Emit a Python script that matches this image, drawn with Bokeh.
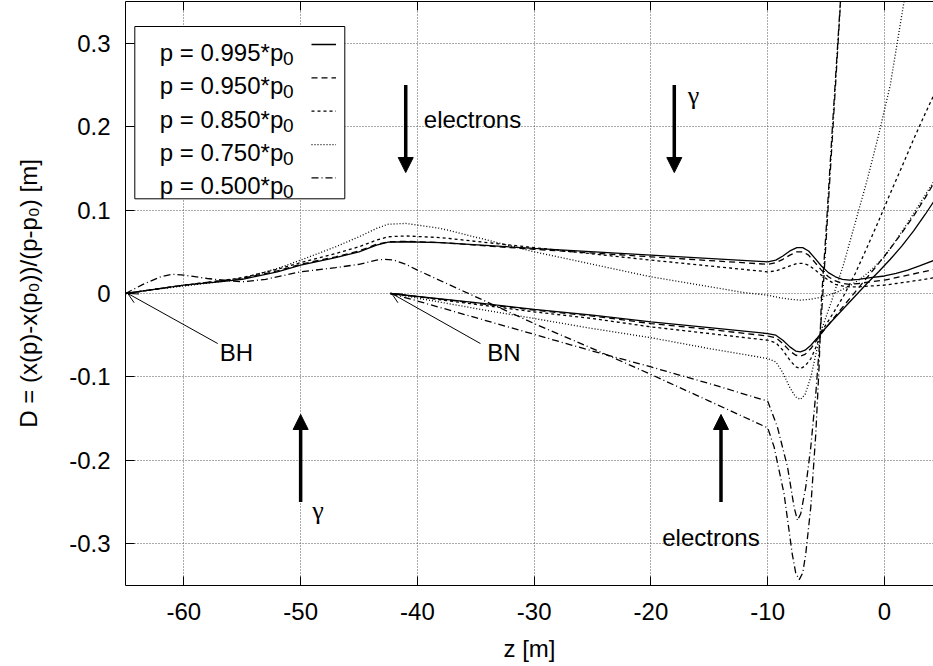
from bokeh.plotting import figure
from bokeh.models import Range1d, FixedTicker, LinearAxis, Arrow, NormalHead, OpenHead
from bokeh.core.properties import value
from bokeh.embed import file_html
from bokeh.resources import INLINE

# ---------------- data ----------------
x_ticks = [-60, -50, -40, -30, -20, -10, 0]
x_tick_labels = ["-60", "-50", "-40", "-30", "-20", "-10", "0"]
y_ticks = [-0.3, -0.2, -0.1, 0.0, 0.1, 0.2, 0.3]
y_tick_labels = ["-0.3", "-0.2", "-0.1", "0", "0.1", "0.2", "0.3"]

# BH group (start at z = -65)
bh_z = [-65, -63, -60, -57, -55, -52, -50, -47, -45, -43.5, -42.5, -41, -38, -30, -20, -10,
        -9.3, -8.7, -8.1, -7.5, -7.0, -6.5, -6.0, -5.4, -4.8, -4.2, -3.6, -3.0, -2.2, -1.2,
        0, 1, 2, 3, 4.3]
bh_995 = [0, 0.004, 0.010, 0.014, 0.017, 0.026, 0.034, 0.043, 0.050, 0.058, 0.0615, 0.062,
          0.061, 0.054, 0.046, 0.038, 0.040, 0.045, 0.051, 0.055, 0.055, 0.051, 0.043, 0.033,
          0.025, 0.020, 0.017, 0.016, 0.017, 0.019, 0.021, 0.024, 0.028, 0.033, 0.040]
bh_950 = [0, 0.004, 0.010, 0.015, 0.018, 0.027, 0.035, 0.044, 0.051, 0.059, 0.062, 0.0625,
          0.061, 0.053, 0.044, 0.035, 0.037, 0.041, 0.046, 0.050, 0.050, 0.046, 0.038, 0.028,
          0.020, 0.015, 0.012, 0.011, 0.012, 0.014, 0.016, 0.019, 0.022, 0.025, 0.029]
bh_850 = [0, 0.004, 0.010, 0.015, 0.019, 0.029, 0.037, 0.048, 0.056, 0.064, 0.068, 0.069,
          0.067, 0.055, 0.040, 0.026, 0.027, 0.030, 0.033, 0.036, 0.036, 0.034, 0.029, 0.022,
          0.016, 0.011, 0.009, 0.008, 0.008, 0.009, 0.010, 0.012, 0.014, 0.016, 0.019]
bh75_z = [-65, -63, -60, -57, -55, -52, -50, -47, -45, -43.5, -42.5, -41, -38, -30, -20, -12,
          -10, -9, -8, -7.2, -6.4, -5.6, -4.8, -4.0, -3.0, -2.0, -1.0, 0, 1, 2, 3, 4.3]
bh_750 = [0, 0.004, 0.009, 0.014, 0.018, 0.030, 0.040, 0.056, 0.068, 0.078, 0.083, 0.084,
          0.078, 0.050, 0.020, 0.001, -0.002, -0.005, -0.007, -0.008, -0.007, -0.005, -0.002,
          0.002, 0.009, 0.018, 0.030, 0.044, 0.064, 0.085, 0.107, 0.136]
bh50_z = [-65, -63.5, -62, -61, -60, -58, -56, -55, -53, -50, -47, -45, -43.5, -42.8, -42, -41,
          -40, -35, -30, -25, -20, -15, -10, -9.45, -8.6, -7.9, -7.6, -7.3, -7.0, -6.74, -6.31,
          -5.88, -5.6, -5.4, -5.0, -4.5, -4.0, -3.5]
bh_500 = [0, 0.011, 0.020, 0.023, 0.022, 0.018, 0.015, 0.014, 0.017, 0.026, 0.031, 0.035,
          0.040, 0.041, 0.040, 0.035, 0.028, -0.004, -0.036, -0.066, -0.097, -0.129, -0.161,
          -0.184, -0.240, -0.312, -0.335, -0.343, -0.335, -0.312, -0.256, -0.168, -0.088,
          -0.008, 0.075, 0.19, 0.30, 0.41]

# BN group (start at z = -42.3)
bn_z = [-42.3, -40, -35, -30, -25, -20, -15, -10, -9.3, -8.7, -8.1, -7.6, -7.2, -6.8, -6.3,
        -5.8, -5.4, -4.5, -3.5, -2.5, -1.5, -0.5, 0.5, 1.5, 2.5, 3.5, 4.3]
bn_995 = [0, -0.0035, -0.011, -0.019, -0.026, -0.034, -0.041, -0.048, -0.050, -0.056, -0.064,
          -0.069, -0.070, -0.068, -0.062, -0.054, -0.047, -0.033, -0.018, -0.003, 0.012, 0.026,
          0.041, 0.057, 0.075, 0.095, 0.112]
bn_950 = [0, -0.0037, -0.0115, -0.020, -0.027, -0.036, -0.043, -0.051, -0.053, -0.060, -0.069,
          -0.074, -0.075, -0.073, -0.066, -0.056, -0.048, -0.032, -0.015, 0.002, 0.019, 0.036,
          0.054, 0.073, 0.093, 0.115, 0.134]
bn_850 = [0, -0.004, -0.013, -0.022, -0.030, -0.040, -0.048, -0.056, -0.059, -0.068, -0.080,
          -0.088, -0.090, -0.087, -0.078, -0.062, -0.046, -0.026, -0.003, 0.024, 0.055, 0.087,
          0.120, 0.152, 0.185, 0.216, 0.240]
bn75_z = [-42.3, -40, -35, -30, -25, -20, -15, -10, -9.3, -8.7, -8.1, -7.6, -7.2, -6.8, -6.3,
          -5.8, -5.4, -4.6, -3.5, -2.5, -1.5, -0.5, 0.5, 1.7, 2.3]
bn_750 = [0, -0.0055, -0.018, -0.030, -0.042, -0.053, -0.066, -0.078, -0.082, -0.095, -0.113,
          -0.124, -0.127, -0.121, -0.100, -0.068, -0.044, -0.012, 0.035, 0.085, 0.135, 0.190,
          0.250, 0.352, 0.41]
bn50_z = [-42.3, -40, -35, -30, -25, -20, -15, -10, -9.17, -8.3, -7.74, -7.45, -7.17, -6.74,
          -6.31, -5.88, -5.6, -5.31, -5.0, -4.5, -4.0, -3.5]
bn_500 = [0, -0.009, -0.029, -0.049, -0.069, -0.088, -0.108, -0.129, -0.160, -0.208, -0.256,
          -0.272, -0.264, -0.232, -0.184, -0.120, -0.068, -0.008, 0.063, 0.178, 0.294, 0.41]

legend_labels = ["p = 0.995*p", "p = 0.950*p", "p = 0.850*p", "p = 0.750*p", "p = 0.500*p"]
legend_sub = ["0", "0", "0", "0", "0"]

# annotations (data coordinates)
big_arrow_z = [-41, -18, -50, -14]
big_arrow_from = [0.25, 0.25, -0.25, -0.25]
big_arrow_to = [0.145, 0.145, -0.145, -0.145]
thin_from_z = [-57.1, -34.6]
thin_from_d = [-0.060, -0.060]
thin_to_z = [-64.8, -42.2]
thin_to_d = [0.0, 0.0]
label_text = ["electrons", "electrons", "BH", "BN"]
label_z = [-39.45, -19.03, -56.92, -34.02]
label_d = [0.209, -0.292, -0.0703, -0.0703]
gamma_z = [-16.84, -49.0]
gamma_d = [0.237, -0.260]

# ---------------- layout ----------------
W, H = 933, 666
FL, FT, FW, FH = 125, 1, 808, 584
XR = (-65.0, 4.2)
YR = (-0.35, 0.35)
FONT = "Liberation Sans"
FS = "24px"


def zx(px):
    return XR[0] + (px - FL) * (XR[1] - XR[0]) / FW


def dy(py):
    return YR[1] - (py - FT) * (YR[1] - YR[0]) / FH


p = figure(width=W, height=H, x_range=Range1d(*XR), y_range=Range1d(*YR),
           output_backend="svg", toolbar_location=None,
           min_border_left=FL, min_border_right=0, min_border_top=FT,
           min_border_bottom=H - FT - FH)
p.outline_line_color = None
p.background_fill_color = "white"
p.border_fill_color = "white"

for ax in (p.xaxis[0], p.yaxis[0]):
    ax.major_label_text_font = FONT
    ax.major_label_text_font_size = FS
    ax.major_label_text_color = "black"
    ax.axis_label_text_font = FONT
    ax.axis_label_text_font_size = FS
    ax.axis_label_text_font_style = "normal"
    ax.axis_label_text_color = "black"
    ax.major_tick_in = 9
    ax.major_tick_out = 0
    ax.minor_tick_line_color = None
    ax.axis_line_color = "black"
    ax.major_tick_line_color = "black"

p.xaxis.ticker = FixedTicker(ticks=x_ticks)
p.xaxis.major_label_overrides = dict(zip(x_ticks, x_tick_labels))
p.xaxis.major_label_standoff = 17
p.xaxis.axis_label = "z [m]"
p.xaxis.axis_label_standoff = 12
p.yaxis.ticker = FixedTicker(ticks=y_ticks)
p.yaxis.major_label_overrides = dict(zip(y_ticks, y_tick_labels))
p.yaxis.axis_label = "D = (x(p)-x(p\u2080))/(p-p\u2080) [m]"
p.yaxis.axis_label_standoff = 24
p.yaxis.major_label_standoff = 15

# mirrored ticks on the top border (no labels drawn)
top = LinearAxis(ticker=FixedTicker(ticks=x_ticks), major_label_text_font_size="0px",
                 major_label_text_color=None, major_label_text_alpha=0,
                 major_tick_in=9, major_tick_out=0, minor_tick_line_color=None,
                 axis_line_color="black", major_tick_line_color="black",
                 major_label_standoff=0)
p.add_layout(top, "above")

p.xgrid.ticker = FixedTicker(ticks=x_ticks)
p.ygrid.ticker = FixedTicker(ticks=y_ticks)
p.grid.grid_line_color = "#555555"
p.grid.grid_line_dash = "1 2"
p.grid.grid_line_width = 1

LW = 1.3
DASH = ["solid", "6 4", "3 3", "1 2", "7 3 1 3"]

curves = [
    (bh_z, bh_995, 0), (bh_z, bh_950, 1), (bh_z, bh_850, 2), (bh75_z, bh_750, 3), (bh50_z, bh_500, 4),
    (bn_z, bn_995, 0), (bn_z, bn_950, 1), (bn_z, bn_850, 2), (bn75_z, bn_750, 3), (bn50_z, bn_500, 4),
]
for zs, ds, k in curves:
    p.line(zs, ds, line_color="black", line_width=LW, line_dash=DASH[k])

# big arrows
for z, a, b in zip(big_arrow_z, big_arrow_from, big_arrow_to):
    p.add_layout(Arrow(end=NormalHead(size=15, fill_color="black", line_color="black", line_width=1),
                       x_start=z, y_start=a, x_end=z, y_end=b,
                       line_color="black", line_width=3.5))
# thin pointer arrows
for z0, d0, z1, d1 in zip(thin_from_z, thin_from_d, thin_to_z, thin_to_d):
    p.add_layout(Arrow(end=OpenHead(size=10, line_color="black", line_width=1),
                       x_start=z0, y_start=d0, x_end=z1, y_end=d1,
                       line_color="black", line_width=1))

p.text(x=label_z, y=label_d, text=label_text, text_font=value(FONT), text_font_size=FS,
       text_baseline="alphabetic", text_align="left", text_color="black")
p.text(x=gamma_z, y=gamma_d, text=["\u03b3", "\u03b3"], text_font=value("Liberation Serif"),
       text_font_size="26px", text_baseline="alphabetic", text_align="left", text_color="black")

# legend box (gnuplot style: label then line sample)
p.quad(left=[zx(134.3)], right=[zx(344.3)], top=[dy(26)], bottom=[dy(198.3)],
       fill_color="white", line_color="black", line_width=1)
rows_base = [dy(52.0 + 33.35 * i) for i in range(5)]
rows_mid = [dy(44.0 + 33.35 * i) for i in range(5)]
p.text(x=[zx(159.3)] * 5, y=rows_base, text=legend_labels, text_font=value(FONT),
       text_font_size=FS, text_baseline="alphabetic", text_align="left", text_color="black")
p.text(x=[zx(282.5)] * 5, y=rows_base, text=legend_sub, text_font=value(FONT),
       text_font_size="19px", text_baseline="alphabetic", text_align="left", y_offset=6,
       text_color="black")
for i in range(5):
    p.line([zx(311), zx(335.5)], [rows_mid[i], rows_mid[i]], line_color="black",
           line_width=LW, line_dash=DASH[i])

open("out.html", "w").write(file_html(p, INLINE))
